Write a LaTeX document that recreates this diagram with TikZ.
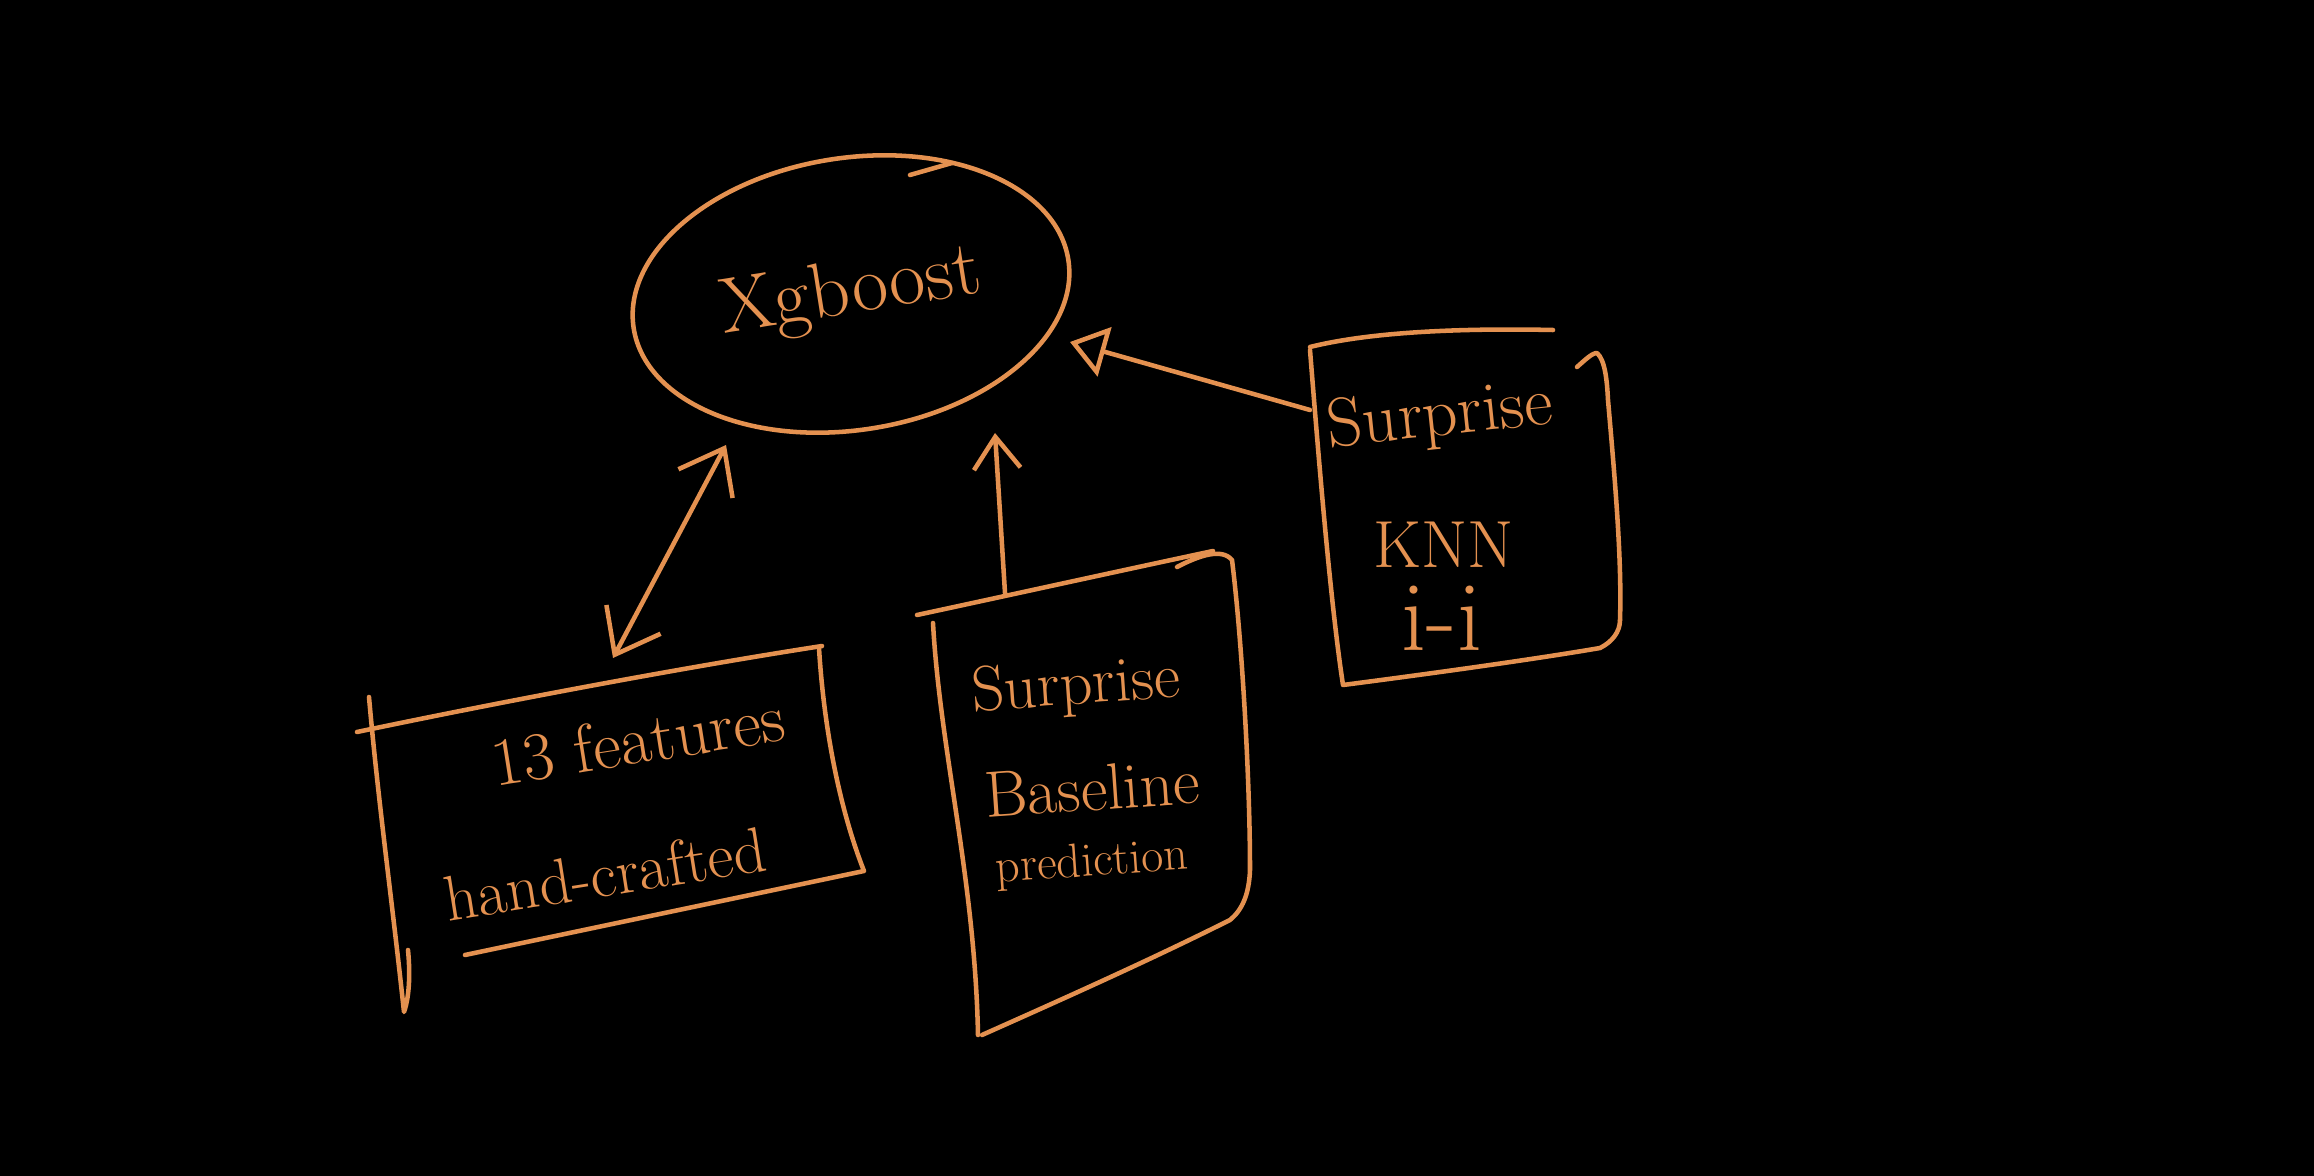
\documentclass[tikz,border=0pt]{standalone}
\usepackage{fontspec}
\usetikzlibrary{shapes.geometric,arrows.meta}
\definecolor{penorange}{RGB}{228,145,80}
\tikzset{every picture/.style={line width=3.4pt}}
\tikzset{
  ink/.style={draw=penorange, line cap=round, line join=round},
  hand/.style={text=penorange, inner sep=0.75pt},
  barb/.style={ink, {Straight Barb[length=30pt,width=46pt]}-{Straight Barb[length=30pt,width=46pt]}},
}

\begin{document}
\begin{tikzpicture}[x=0.75pt,y=0.75pt,yscale=-1,xscale=1]
		%background, sets the size of the page
		\fill [black] (0,0) rectangle (2314,1176);
		\useasboundingbox (0,0) rectangle (2314,1176);
		
		%Ellipse [id:xgb]
		\node [ellipse, ink, hand, minimum width=330pt, minimum height=204pt, rotate=9, font=\fontsize{59}{70}\selectfont] (xgb) at (851,294) {Xgboost};
		%Straight Lines [id:xgbtick]
		\draw [ink] (910,175) -- (952,163) ;
		
		%Shape: features box
		\draw [ink] (357,732) .. controls (500,702) and (680,668) .. (822,646) ;
		\draw [ink] (819,648) .. controls (824,730) and (840,810) .. (864,871) -- (465,955) ;
		\draw [ink] (369,697) .. controls (378,800) and (392,900) .. (404,1012) .. controls (410,995) and (410,970) .. (408,950) ;
		
		%Shape: baseline box
		\draw [ink] (917,615) .. controls (1010,595) and (1110,573) .. (1213,551) ;
		\draw [ink] (1177,567) .. controls (1200,555) and (1222,548) .. (1232,560) .. controls (1242,640) and (1250,780) .. (1250,870) .. controls (1249,895) and (1242,910) .. (1230,920) .. controls (1150,960) and (1065,998) .. (982,1035) ;
		\draw [ink] (933,623) .. controls (940,750) and (975,880) .. (978,1035) ;
		
		%Shape: knn box
		\draw [ink] (1310,347) .. controls (1370,332) and (1460,328) .. (1553,330) ;
		\draw [ink] (1310,350) .. controls (1318,450) and (1330,600) .. (1343,685) .. controls (1420,675) and (1530,660) .. (1600,648) .. controls (1612,642) and (1620,632) .. (1620,620) ;
		\draw [ink] (1577,367) .. controls (1585,360) and (1592,353) .. (1597,353) .. controls (1605,360) and (1607,380) .. (1608,400) .. controls (1615,480) and (1622,560) .. (1620,620) ;
		
		% Text Node
		\node [hand, rotate=9, font=\fontsize{51}{60}\selectfont] (feat) at (638,740) {13 features};
		% Text Node
		\node [hand, rotate=9, font=\fontsize{48}{56}\selectfont] (craft) at (605,874) {hand-crafted};
		% Text Node
		\node [hand, rotate=4, font=\fontsize{48}{58}\selectfont] (surpb) at (1076,688) {Surprise};
		% Text Node
		\node [hand, rotate=4, font=\fontsize{49}{58}\selectfont] (basel) at (1092,788) {Baseline};
		% Text Node
		\node [hand, rotate=4, font=\fontsize{36}{44}\selectfont] (pred) at (1092,864) {prediction};
		% Text Node
		\node [hand, rotate=6, font=\fontsize{52}{62}\selectfont] (surpk) at (1440,418) {Surprise};
		% Text Node
		\node [hand, font=\fontsize{50}{60}\selectfont] (knn) at (1444,545) {KNN};
		% Text Node
		\node [hand, font=\fontsize{75}{90}\selectfont] (ii) at (1442,618) {i-i};
		
		%Arrows
		\coordinate (featTop) at (613,658);
		\coordinate (xgbSW) at (726,445);
		\draw [barb] (featTop) -- (xgbSW) ;
		\coordinate (baseTop) at (1005,593);
		\coordinate (xgbS) at (995,433);
		\draw [ink, -{Straight Barb[length=24pt,width=35pt]}] (baseTop) -- (xgbS) ;
		\coordinate (knnLeft) at (1310,410);
		\coordinate (xgbE) at (1070,342);
		\draw [ink, -{Triangle[open,length=27pt,width=38pt]}] (knnLeft) -- (xgbE) ;
		
	\end{tikzpicture}
\end{document}
